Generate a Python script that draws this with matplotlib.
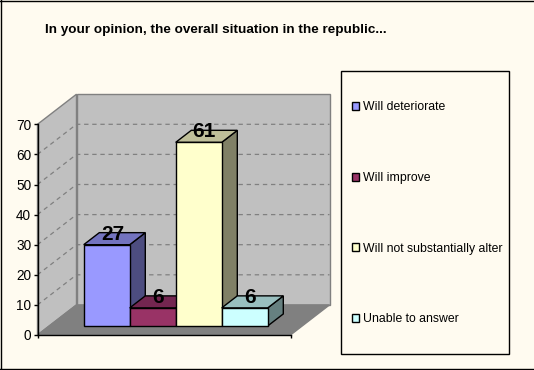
import matplotlib
matplotlib.use('Agg')
import matplotlib.pyplot as plt
from matplotlib.patches import Polygon, Rectangle

categories = ['Will deteriorate', 'Will improve', 'Will not substantially alter', 'Unable to answer']
values = [27, 6, 61, 6]
colors = ['#9999FF', '#993366', '#FFFFCC', '#CCFFFF']
top_colors = ['#7373BF', '#732650', '#BFBF99', '#99BFBF']
side_colors = ['#4D4D80', '#4D1A33', '#808066', '#668080']
y_ticks = [0, 10, 20, 30, 40, 50, 60, 70]
title = 'In your opinion, the overall situation in the republic...'

W, H = 534, 370
bg = '#FFFBF0'
plt.rcParams['font.family'] = ['Liberation Sans', 'DejaVu Sans']

fig = plt.figure(figsize=(W / 100, H / 100), dpi=100, facecolor=bg)


def px_box(x0, y0, x1, y1):
    # pixel box (y from top) to figure fractions
    return [x0 / W, 1 - y1 / H, (x1 - x0) / W, (y1 - y0) / H]


# front plane of the 3d box is the real axes
ax = fig.add_axes(px_box(37.5, 124.3, 290.5, 335))
ax.set_xlim(-0.75, 4.75)
ax.set_ylim(0, 70)
ax.patch.set_visible(False)

DX = 0.848  # full depth in x units
DY = 10.0   # full depth in y units


def proj(x, v, d):
    return (x + DX * d, v + DY * d)


x0, x1 = ax.get_xlim()
y0, y1 = ax.get_ylim()

# walls and floor
wall = Polygon([proj(x0, y0, 1), proj(x1, y0, 1), proj(x1, y1, 1), proj(x0, y1, 1)],
               fc='#C0C0C0', ec='#808080', lw=1, zorder=1, clip_on=False)
side = Polygon([proj(x0, y0, 0), proj(x0, y0, 1), proj(x0, y1, 1), proj(x0, y1, 0)],
               fc='#C0C0C0', ec='#808080', lw=1, zorder=1, clip_on=False)
floor = Polygon([proj(x0, y0, 0), proj(x1, y0, 0), proj(x1, y0, 1), proj(x0, y0, 1)],
                fc='#808080', ec='#808080', lw=1, zorder=1, clip_on=False)
for p in (wall, side, floor):
    ax.add_patch(p)

# dashed gridlines
for t in y_ticks[1:-1]:
    xs, ys = zip(proj(x0, t, 0), proj(x0, t, 1), proj(x1, t, 1))
    ax.plot(xs, ys, color='#808080', lw=0.9, ls=(0, (3.5, 3)), zorder=2, clip_on=False)

# bars
d_front, d_back = 0.3, 0.7
for i, v in enumerate(values):
    a, b = i, i + 1
    front = [proj(a, 0, d_front), proj(b, 0, d_front), proj(b, v, d_front), proj(a, v, d_front)]
    top = [proj(a, v, d_front), proj(b, v, d_front), proj(b, v, d_back), proj(a, v, d_back)]
    right = [proj(b, 0, d_front), proj(b, 0, d_back), proj(b, v, d_back), proj(b, v, d_front)]
    z = 3 + i
    ax.add_patch(Polygon(right, fc=side_colors[i], ec='black', lw=1, zorder=z, clip_on=False))
    ax.add_patch(Polygon(top, fc=top_colors[i], ec='black', lw=1, zorder=z, clip_on=False))
    ax.add_patch(Polygon(front, fc=colors[i], ec='black', lw=1, zorder=z, clip_on=False))

for i, v in enumerate(values):
    lx, ly = proj(i + 0.5, v, 0.5)
    ax.annotate(str(v), (lx, ly), xytext=(-1.5, -3.5), textcoords='offset points', ha='center',
                va='bottom', fontsize=15, fontweight='bold', color='black', zorder=10,
                annotation_clip=False)

# axes
for s in ('top', 'right'):
    ax.spines[s].set_visible(False)
for s in ('left', 'bottom'):
    ax.spines[s].set_color('black')
    ax.spines[s].set_linewidth(1)
    ax.spines[s].set_zorder(8)
ax.set_yticks(y_ticks)
ax.set_xticks([x0, x1])
ax.set_xticklabels([])
ax.tick_params(axis='y', length=3, width=1, labelsize=9.8, pad=1.5, colors='black')
ax.tick_params(axis='x', length=2, width=1)

fig.text(45 / W, 1 - 30 / H, title, fontsize=9.7, fontweight='bold', color='black',
         ha='left', va='center')

# legend box
fig.add_artist(Rectangle((341 / W, 1 - 354 / H), 168 / W, 283 / H, transform=fig.transFigure,
                         fc='none', ec='black', lw=1))
handles = [Rectangle((0, 0), 1, 1, fc=c, ec='black', lw=1) for c in colors]
fig.legend(handles, categories, loc='upper left', bbox_to_anchor=(351.5 / W, 1 - 101.5 / H),
           frameon=False, fontsize=8.8, labelspacing=4.79, handlelength=0.65, handleheight=0.65,
           handletextpad=0.3, borderpad=0, borderaxespad=0, labelcolor='black')

# outer border, left/top/bottom only
for xs, ys in (([0.5, 0.5], [0, H]), ([0, W], [0.5, 0.5]), ([0, W], [H - 1, H - 1])):
    fig.add_artist(plt.Line2D([x / W for x in xs], [1 - y / H for y in ys],
                              transform=fig.transFigure, color='black', lw=1))

fig.savefig('out.png', dpi=100, facecolor=bg)
